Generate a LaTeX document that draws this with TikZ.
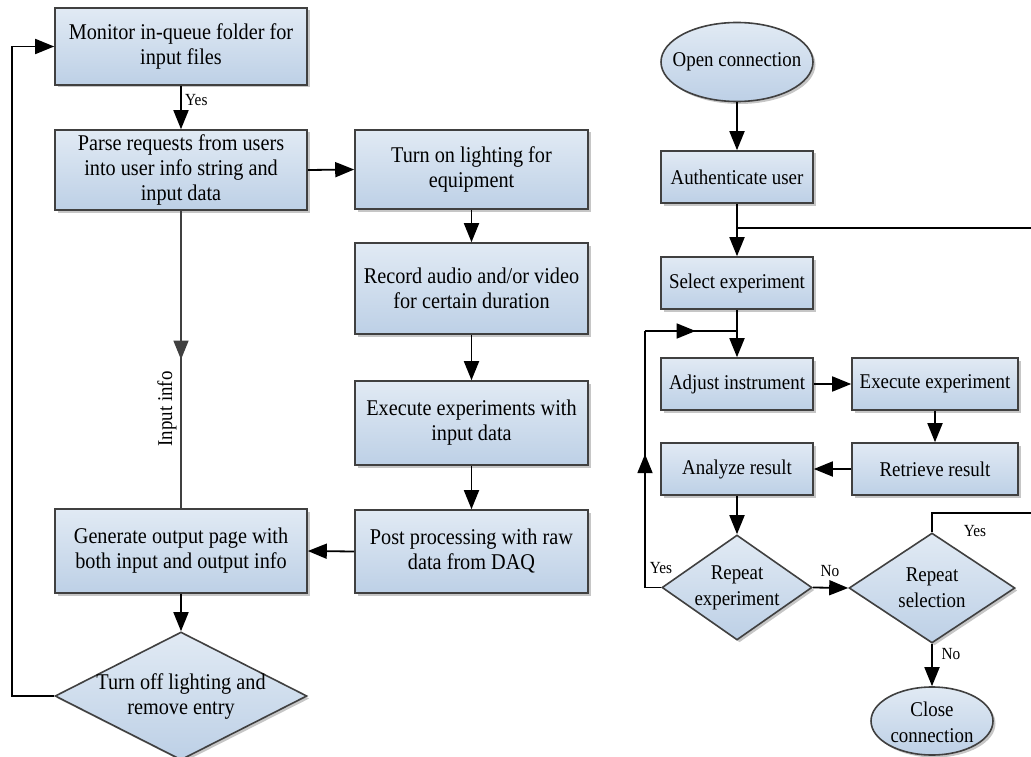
\documentclass[tikz,border=0pt]{standalone}
\usepackage{fontspec}
\setmainfont{Liberation Serif}[FakeStretch=0.9]
\usetikzlibrary{arrows.meta,shapes.geometric,shadows,decorations.markings}
\definecolor{bord}{HTML}{404040}
\definecolor{ftop}{HTML}{E1EAF4}
\definecolor{fbot}{HTML}{BDD0E6}
\tikzset{
 nodebase/.style={draw=bord, line width=1.6pt, top color=ftop, bottom color=fbot,
   drop shadow={shadow xshift=2.5pt,shadow yshift=-2.5pt,fill=black!50,opacity=.45},
   inner sep=0pt, font=\fontsize{22.5}{25}\selectfont, align=center},
 rfont/.style={font=\fontsize{21}{26}\selectfont},
 box/.style={nodebase, rectangle},
 dia/.style={nodebase, diamond},
 ell/.style={nodebase, ellipse},
 txt/.style={font=\fontsize{22.5}{25}\selectfont, align=center, inner sep=0pt},
 lab/.style={font=\fontsize{17}{19}\selectfont, inner sep=0pt},
 conn/.style={line width=1.8pt, draw=black},
 arr/.style={conn, -{Triangle[length=19pt,width=15pt]}},
 midarr/.style={postaction={decorate}, decoration={markings, mark=at position #1 with {\arrow{Triangle[length=19pt,width=15pt]}}}},
}
\begin{document}
\begin{tikzpicture}[x=1pt,y=-1pt]
\useasboundingbox (0,0) rectangle (1031,757);
% left part
\node[box, minimum width=252pt, minimum height=77pt] (mon) at (181,46.5) {Monitor in-queue folder for\\input files};
\node[box, minimum width=252pt, minimum height=80pt] (parse) at (181,170) {Parse requests from users\\into user info string and\\input data};
\node[box, minimum width=252pt, minimum height=84pt] (gen) at (181,551) {Generate output page with\\both input and output info};
\node[dia, minimum width=252pt, minimum height=128pt] (off) at (181,696) {};
\node[txt] (offt) at (181,697) {Turn off lighting and\\remove entry};
\node[box, minimum width=233pt, minimum height=79pt] (light) at (471.5,169.5) {Turn on lighting for\\equipment};
\node[box, minimum width=233pt, minimum height=91pt] (rec) at (471.5,288.5) {Record audio and/or video\\for certain duration};
\node[box, minimum width=233pt, minimum height=84pt] (exe) at (471.5,423) {Execute experiments with\\input data};
\node[box, minimum width=233pt, minimum height=83pt] (post) at (471.5,551.5) {Post processing with raw\\data from DAQ};
% right part
\node[ell, minimum width=152pt, minimum height=79pt] (open) at (737,62) {};
\node[txt, rfont] (opent) at (737,62) {Open connection};
\node[box, rfont, minimum width=152pt, minimum height=52pt] (auth) at (737,177) {Authenticate user};
\node[box, rfont, minimum width=152pt, minimum height=52pt] (sel) at (737,283) {Select experiment};
\node[box, rfont, minimum width=152pt, minimum height=52pt] (adj) at (737,384) {Adjust instrument};
\node[box, rfont, minimum width=166pt, minimum height=52pt] (exex) at (935,384) {Execute experiment};
\node[box, rfont, minimum width=166pt, minimum height=52pt] (ret) at (935,469) {Retrieve result};
\node[box, rfont, minimum width=152pt, minimum height=52pt] (ana) at (737,469) {Analyze result};
\node[dia, minimum width=150pt, minimum height=105pt] (rexp) at (737,587.5) {};
\node[txt, rfont] (rexpt) at (737,588) {Repeat\\experiment};
\node[dia, minimum width=166pt, minimum height=110pt] (rsel) at (932,588) {};
\node[txt, rfont] (rselt) at (932,588) {Repeat\\selection};
\node[ell, minimum width=122pt, minimum height=68pt] (close) at (932,721) {};
\node[txt, rfont] (closet) at (932,722) {Close\\connection};
% coordinates
\coordinate (lloopb) at (12,696);
\coordinate (lloopt) at (12,46.5);
\coordinate (jtop) at (737,228);
\coordinate (redge) at (1045,228);
\coordinate (redgeb) at (1045,513);
\coordinate (rselup) at (932,513);
\coordinate (lb) at (645,587.5);
\coordinate (lt) at (645,331);
\coordinate (jn) at (737,331);
% left connectors
\draw[arr] (mon.south) -- (parse.north);
\node[lab, anchor=west] (yes1) at (185,100) {Yes};
\draw[arr] (parse.east) -- (light.west);
\draw[arr] (light.south) -- (rec.north);
\draw[arr] (rec.south) -- (exe.north);
\draw[arr] (exe.south) -- (post.north);
\draw[arr] (post.west) -- (gen.east);
\draw[arr] (gen.south) -- (off.north);
\draw[line width=1.8pt, draw=bord, color=bord, midarr=0.5] (parse.south) -- (gen.north);
\node[lab, rotate=90, font=\fontsize{21}{23}\selectfont] (ii) at (167,409) {Input info};
\draw[arr] (off.west) -- (lloopb) -- (lloopt) -- (mon.west);
% right connectors
\draw[arr] (open.south) -- (auth.north);
\draw[arr] (auth.south) -- (sel.north);
\draw[conn] (redge) -- (jtop);
\draw[arr] (sel.south) -- (adj.north);
\draw[arr] (adj.east) -- (exex.west);
\draw[arr] (exex.south) -- (ret.north);
\draw[arr] (ret.west) -- (ana.east);
\draw[arr] (ana.south) -- (rexp.north);
\draw[arr] (rexp.east) -- (rsel.west);
\node[lab] (no1) at (830,571) {No};
\draw[conn] (rexp.west) -- (lb);
\draw[conn, midarr=0.52] (lb) -- (lt);
\draw[conn, midarr=0.55] (lt) -- (jn);
\node[lab] (yes2) at (661,568) {Yes};
\draw[conn] (rsel.north) -- (rselup) -- (redgeb) -- (redge);
\node[lab] (yes3) at (975,531) {Yes};
\draw[arr] (rsel.south) -- (close.north);
\node[lab] (no2) at (951,654) {No};
\end{tikzpicture}
\end{document}
